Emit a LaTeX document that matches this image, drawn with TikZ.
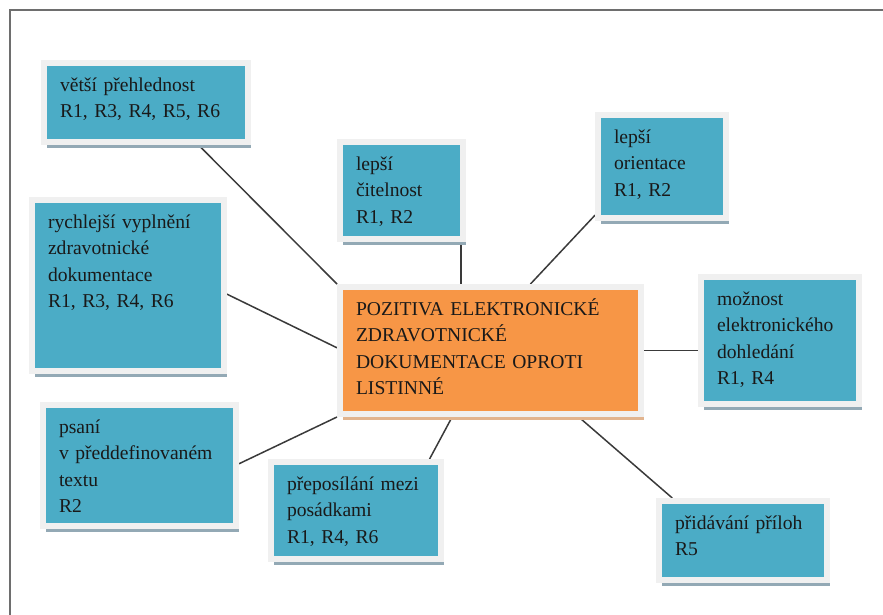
\documentclass[tikz,border=0pt]{standalone}
\usepackage{fontspec}
\setmainfont{Liberation Serif}
\usetikzlibrary{shadows,backgrounds}

\definecolor{tyrkys}{HTML}{4BACC6}
\definecolor{oranz}{HTML}{F79646}
\definecolor{okraj}{HTML}{F0F0F0}
\definecolor{stinmodry}{HTML}{93A9B5}
\definecolor{stinoranz}{HTML}{E2B48E}
\definecolor{ramecek}{HTML}{6E6E6E}
\definecolor{cara}{HTML}{3A3A3A}

\begin{document}
\begin{tikzpicture}[x=0.5pt, y=-0.5pt,
    krabice/.style 2 args={draw=okraj, line width=3pt, fill=tyrkys,
        anchor=north west, align=left, text width=#1, text height=8pt,
        text depth=#2, inner xsep=8pt, inner ysep=6pt, text=black!90,
        font=\fontsize{9.8}{13.25}\selectfont},
    stin/.style={drop shadow={shadow xshift=1.5pt, shadow yshift=-3pt,
        fill=#1, opacity=1}},
    spoj/.style={draw=cara, line width=0.75pt}]
    \useasboundingbox (0,0) rectangle (883,615);

    % Rámeček
    \draw[ramecek, line width=1pt] (10,615) -- (10,10) -- (883,10);

    % Střed
    \node[krabice={134.5pt}{43.5pt}, fill=oranz, stin=stinoranz] (stred) at (337,284)
        {POZITIVA ELEKTRONICKÉ\\ZDRAVOTNICKÉ\\DOKUMENTACE OPROTI\\LISTINNÉ};

    % Okolní krabice
    \node[krabice={86pt}{19.5pt}, stin=stinmodry] (prehlednost) at (41,60)
        {větší přehlednost\\R1, R3, R4, R5, R6};
    \node[krabice={45.5pt}{28.5pt}, stin=stinmodry] (citelnost) at (337,139)
        {lepší\\čitelnost\\R1, R2};
    \node[krabice={48pt}{31.5pt}, stin=stinmodry] (orientace) at (595,112)
        {lepší\\orientace\\R1, R2};
    \node[krabice={63pt}{43.5pt}, stin=stinmodry] (dohledani) at (698,274)
        {možnost\\elektronického\\dohledání\\R1, R4};
    \node[krabice={80pt}{65.5pt}, stin=stinmodry] (vyplneni) at (29,197)
        {rychlejší vyplnění\\zdravotnické\\dokumentace\\R1, R3, R4, R6};
    \node[krabice={80.5pt}{40.5pt}, stin=stinmodry] (psani) at (40,402)
        {psaní\\v předdefinovaném\\textu\\R2};
    \node[krabice={69pt}{28.5pt}, stin=stinmodry] (preposilani) at (268,459)
        {přeposílání mezi\\posádkami\\R1, R4, R6};
    \node[krabice={68pt}{19.5pt}, stin=stinmodry] (prilohy) at (656,498)
        {přidávání příloh\\R5};

    % Spojnice
    \begin{scope}[on background layer]
        \draw[spoj] (prehlednost.-39.5) -- (stred.north west);
        \draw[spoj] (citelnost.-41.7) -- (citelnost.-41.7 |- stred.north);
        \draw[spoj] (orientace.-144.6) -- (stred.59.4);
        \draw[spoj] (vyplneni.-5.7) -- (stred.179);
        \draw[spoj] (stred.east) -- (stred.east -| dohledani.west);
        \draw[spoj] (psani.1.5) -- (stred.south west);
        \draw[spoj] (preposilani.35.9) -- (stred.-120.6);
        \draw[spoj] (prilohy.149.5) -- (stred.-37.3);
    \end{scope}
\end{tikzpicture}
\end{document}
